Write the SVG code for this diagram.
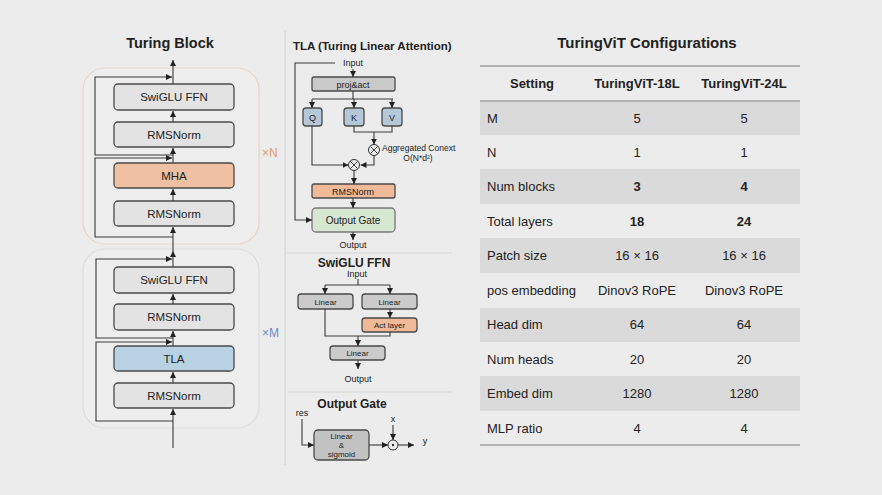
<svg xmlns="http://www.w3.org/2000/svg" width="882" height="495" viewBox="0 0 882 495">
<defs>
<marker id="a" viewBox="0 0 10 10" refX="10" refY="5" markerWidth="6" markerHeight="6" orient="auto" markerUnits="userSpaceOnUse"><path d="M0,0L10,5L0,10z" fill="#222"/></marker>
<style>
text{font-family:"Liberation Sans",Arial,sans-serif;fill:#222}
.t{font-weight:bold;font-size:14.5px;text-anchor:middle}
.st{font-weight:bold;font-size:12px;text-anchor:middle}
.bl{font-size:11.5px;text-anchor:middle}
.sm{font-size:9px;text-anchor:middle}
.xs{font-size:8px;text-anchor:middle}
.box{fill:#e3e3e3;stroke:#4a4a4a;stroke-width:1.3}
.ln{fill:none;stroke:#3a3a3a;stroke-width:1.1}
.la{fill:none;stroke:#3a3a3a;stroke-width:1.1;marker-end:url(#a)}
.row{fill:#dadada}
.td{font-size:13px}
.tc{font-size:13px;text-anchor:middle}
.b{font-weight:bold}
</style>
</defs>
<rect width="882" height="495" fill="#ececec"/>

<!-- Left panel -->
<text class="t" x="170" y="48">Turing Block</text>
<g id="frameN"><rect x="83" y="68" width="176" height="176" rx="22" fill="#eeeeee" stroke="#e6d6c8" stroke-width="1.2"/><text x="262" y="157" font-size="12" style="fill:#e49a6c">×N</text></g>
<g id="frameM"><rect x="83" y="249" width="176" height="179" rx="22" fill="#eeeeee" stroke="#dcdcdc" stroke-width="1.2"/><text x="262" y="337" font-size="12" style="fill:#6a8ccc">×M</text></g>

<g id="swiglu1"><rect class="box" x="114" y="84" width="120" height="26" rx="4"/><text class="bl" x="174" y="101">SwiGLU FFN</text></g>
<g id="rms1"><rect class="box" x="114" y="122" width="120" height="25" rx="4"/><text class="bl" x="174" y="139">RMSNorm</text></g>
<g id="mha"><rect class="box" x="114" y="163" width="120" height="25" rx="4" style="fill:#efc0a2"/><text class="bl" x="174" y="180">MHA</text></g>
<g id="rms2"><rect class="box" x="114" y="201" width="120" height="25" rx="4"/><text class="bl" x="174" y="218">RMSNorm</text></g>
<g id="swiglu2"><rect class="box" x="114" y="267" width="120" height="26" rx="4"/><text class="bl" x="174" y="284">SwiGLU FFN</text></g>
<g id="rms3"><rect class="box" x="114" y="304" width="120" height="26" rx="4"/><text class="bl" x="174" y="321">RMSNorm</text></g>
<g id="tla"><rect class="box" x="114" y="346" width="120" height="25" rx="4" style="fill:#b8d2e3"/><text class="bl" x="174" y="363">TLA</text></g>
<g id="rms4"><rect class="box" x="114" y="383" width="120" height="25" rx="4"/><text class="bl" x="174" y="400">RMSNorm</text></g>

<g id="connectors-left">
<path class="la" d="M173,448V409"/>
<path class="la" d="M173,383V372"/>
<path class="la" d="M173,346V331"/>
<path class="la" d="M173,304V294"/>
<path class="la" d="M173,267V251"/>
<path class="la" d="M173,251V227"/>
<path class="la" d="M173,201V189"/>
<path class="la" d="M173,163V148"/>
<path class="la" d="M173,122V111"/>
<path class="la" d="M173,84V60"/>
<path class="la" d="M173,421H96V342H172"/>
<path class="la" d="M173,338H96V259H172"/>
<path class="la" d="M173,237H95V158H172"/>
<path class="la" d="M173,155H95V77H172"/>
</g>

<!-- dividers -->
<path d="M285,30V465" stroke="#d6d6d6" stroke-width="1.2"/>
<path d="M287,253H452" stroke="#d6d6d6" stroke-width="1"/>
<path d="M288,392H452" stroke="#d6d6d6" stroke-width="1"/>

<!-- TLA panel -->
<text x="293" y="50" font-size="11.5" font-weight="bold">TLA (Turing Linear Attention)</text>
<text class="sm" x="353" y="66">Input</text>
<g id="proj"><rect class="box" x="312" y="77" width="83" height="14" rx="2" style="fill:#c9c9c9"/><text class="sm" x="353" y="87.5">proj&amp;act</text></g>
<g id="q"><rect class="box" x="303" y="108" width="19" height="18" rx="3" style="fill:#b6c8d7"/><text class="sm" x="312.5" y="120.5">Q</text></g>
<g id="k"><rect class="box" x="344" y="108" width="20" height="18" rx="3" style="fill:#b6c8d7"/><text class="sm" x="354" y="120.5">K</text></g>
<g id="v"><rect class="box" x="382" y="108" width="20" height="18" rx="3" style="fill:#b6c8d7"/><text class="sm" x="392" y="120.5">V</text></g>
<g id="mul1"><circle cx="374" cy="150" r="5.5" fill="#ececec" stroke="#333" stroke-width="1"/><path d="M370.5,146.5l7,7M377.5,146.5l-7,7" stroke="#333" stroke-width="0.9"/></g>
<text x="382" y="151" font-size="8.5">Aggregated Conext</text>
<text x="418" y="161" font-size="8.5" text-anchor="middle">O(N*d²)</text>
<g id="mul2"><circle cx="354" cy="165" r="5.5" fill="#ececec" stroke="#333" stroke-width="1"/><path d="M350.5,161.5l7,7M357.5,161.5l-7,7" stroke="#333" stroke-width="0.9"/></g>
<g id="rmsT"><rect class="box" x="312" y="184" width="83" height="14" rx="2" style="fill:#f0b998"/><text class="sm" x="353" y="194.5">RMSNorm</text></g>
<g id="ogate"><rect class="box" x="312" y="208" width="83" height="24" rx="4" style="fill:#d6e7d2;stroke:#777"/><text x="353" y="223.5" font-size="10" text-anchor="middle">Output Gate</text></g>
<text class="sm" x="353" y="248">Output</text>
<g id="connectors-tla">
<path class="la" d="M353,69V77"/>
<path class="la" d="M335,63H295V220H312"/>
<path class="ln" d="M353,91V99M312,99H393"/>
<path class="la" d="M312,99V108"/>
<path class="la" d="M354,99V108"/>
<path class="la" d="M392,99V108"/>
<path class="ln" d="M354,126V132H392V126"/>
<path class="la" d="M374,132V144.5"/>
<path class="la" d="M374,155.5V165H360.5"/>
<path class="la" d="M312,126V165H348.5"/>
<path class="la" d="M354,170.5V184"/>
<path class="la" d="M353,198V208"/>
<path class="la" d="M353,232V240"/>
</g>

<!-- SwiGLU FFN panel -->
<text class="st" x="354" y="267">SwiGLU FFN</text>
<text class="sm" x="357" y="277">Input</text>
<g id="lin1"><rect class="box" x="298" y="294" width="55" height="15" rx="3" style="fill:#cbcbcb"/><text class="xs" x="325.5" y="304.5">Linear</text></g>
<g id="lin2"><rect class="box" x="362" y="294" width="55" height="15" rx="3" style="fill:#cbcbcb"/><text class="xs" x="389.5" y="304.5">Linear</text></g>
<g id="act"><rect class="box" x="362" y="318" width="55" height="14" rx="3" style="fill:#f0b998"/><text class="xs" x="389.5" y="328">Act layer</text></g>
<g id="lin3"><rect class="box" x="330" y="346" width="55" height="14" rx="3" style="fill:#cbcbcb"/><text class="xs" x="357.5" y="356">Linear</text></g>
<text class="sm" x="358" y="382">Output</text>
<g id="connectors-ffn">
<path class="ln" d="M358,279V285M325,285H390"/>
<path class="la" d="M325,285V294"/>
<path class="la" d="M390,285V294"/>
<path class="la" d="M390,309V318"/>
<path class="ln" d="M325,309V336H390V332"/>
<path class="la" d="M358,336V346"/>
<path class="la" d="M358,360V369"/>
</g>

<!-- Output gate panel -->
<text class="st" x="352" y="408">Output Gate</text>
<text class="sm" x="302" y="416">res</text>
<g id="linsig"><rect class="box" x="314" y="430" width="55" height="30" rx="4" style="fill:#c2c2c2"/><text class="xs" x="341.5" y="439">Linear</text><text class="xs" x="341.5" y="448">&amp;</text><text class="xs" x="341.5" y="457">sigmoid</text></g>
<g id="dot"><circle cx="393" cy="445" r="5" fill="#ececec" stroke="#333" stroke-width="1"/><circle cx="393" cy="445" r="1.2" fill="#333"/></g>
<text class="sm" x="393" y="422">x</text>
<text class="sm" x="425" y="444">y</text>
<g id="connectors-gate">
<path class="la" d="M302,419V445H314"/>
<path class="la" d="M369,445H388"/>
<path class="la" d="M393,425V440"/>
<path class="la" d="M398,445H414"/>
</g>

<!-- Table -->
<g id="table">
<text class="t" x="647" y="48" style="font-size:15px">TuringViT Configurations</text>
<rect class="row" x="480" y="101" width="320" height="34"/>
<rect class="row" x="480" y="169" width="320" height="35"/>
<rect class="row" x="480" y="238" width="320" height="35"/>
<rect class="row" x="480" y="308" width="320" height="34"/>
<rect class="row" x="480" y="376" width="320" height="35"/>
<path d="M480,66H800" stroke="#b4b4b4" stroke-width="1.8"/>
<path d="M480,101H800" stroke="#b4b4b4" stroke-width="1.8"/>
<path d="M480,445H800" stroke="#b4b4b4" stroke-width="1.8"/>
<text class="tc b" x="532" y="88">Setting</text>
<text class="tc b" x="637" y="88">TuringViT-18L</text>
<text class="tc b" x="744" y="88">TuringViT-24L</text>

<text class="td" x="487" y="123">M</text><text class="tc" x="637" y="123">5</text><text class="tc" x="744" y="123">5</text>
<text class="td" x="487" y="157">N</text><text class="tc" x="637" y="157">1</text><text class="tc" x="744" y="157">1</text>
<text class="td" x="487" y="191">Num blocks</text><text class="tc b" x="637" y="191">3</text><text class="tc b" x="744" y="191">4</text>
<text class="td" x="487" y="226">Total layers</text><text class="tc b" x="637" y="226">18</text><text class="tc b" x="744" y="226">24</text>
<text class="td" x="487" y="260">Patch size</text><text class="tc" x="637" y="260">16 × 16</text><text class="tc" x="744" y="260">16 × 16</text>
<text class="td" x="487" y="295">pos embedding</text><text class="tc" x="637" y="295">Dinov3 RoPE</text><text class="tc" x="744" y="295">Dinov3 RoPE</text>
<text class="td" x="487" y="329">Head dim</text><text class="tc" x="637" y="329">64</text><text class="tc" x="744" y="329">64</text>
<text class="td" x="487" y="364">Num heads</text><text class="tc" x="637" y="364">20</text><text class="tc" x="744" y="364">20</text>
<text class="td" x="487" y="398">Embed dim</text><text class="tc" x="637" y="398">1280</text><text class="tc" x="744" y="398">1280</text>
<text class="td" x="487" y="433">MLP ratio</text><text class="tc" x="637" y="433">4</text><text class="tc" x="744" y="433">4</text>
</g>
</svg>
